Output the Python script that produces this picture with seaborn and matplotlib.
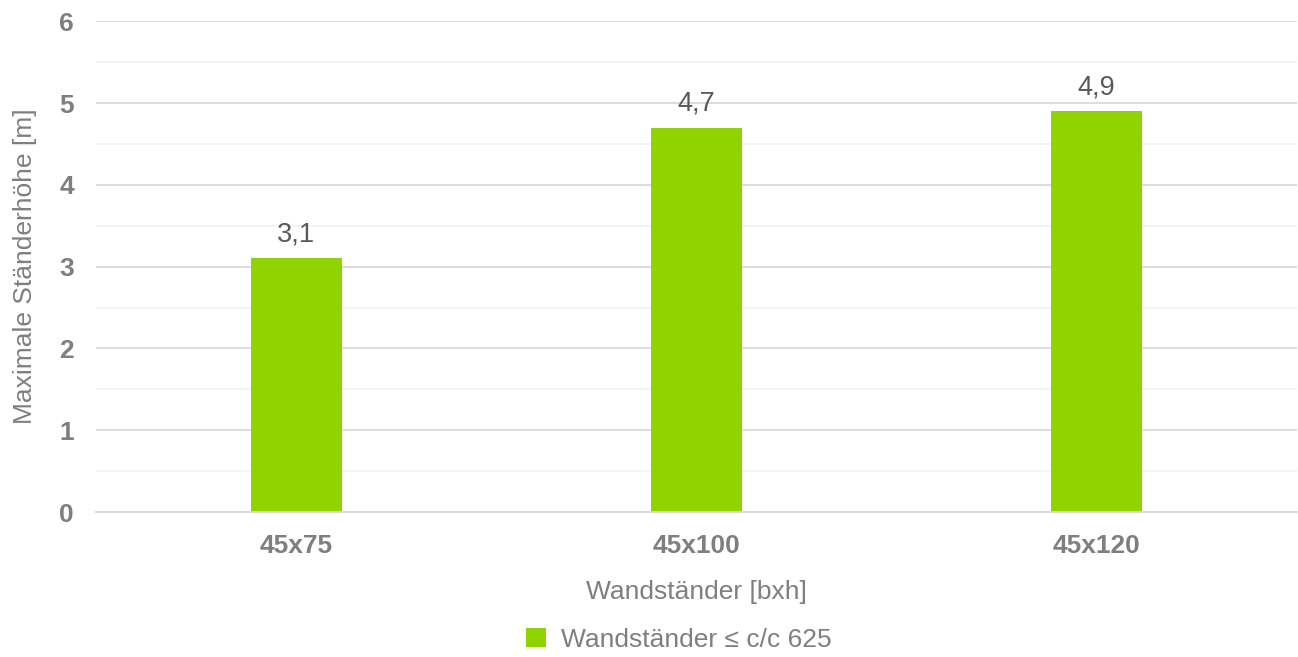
import matplotlib
matplotlib.use("Agg")
import matplotlib.pyplot as plt
import seaborn as sns
import pandas as pd
from matplotlib.ticker import MultipleLocator

categories = ["45x75", "45x100", "45x120"]
values = [3.1, 4.7, 4.9]
value_labels = ["3,1", "4,7", "4,9"]
series_name = "Wandständer \u2264 c/c 625"

sns.set_style("white")
plt.rcParams["font.family"] = ["Liberation Sans", "DejaVu Sans"]

df = pd.DataFrame({"Wandständer": categories, "Höhe": values, "Serie": series_name})

fig = plt.figure(figsize=(12.98, 6.57), dpi=100)
ax = fig.add_axes([0.074, 0.2207, 0.925, 0.747])

sns.barplot(data=df, x="Wandständer", y="Höhe", hue="Serie", palette=["#8fd400"],
            width=0.227, ax=ax, saturation=1, legend=True, linewidth=0)

ax.set_ylim(0, 6)
ax.set_xlim(-0.5, 2.5)
ax.yaxis.set_major_locator(MultipleLocator(1))
ax.yaxis.set_minor_locator(MultipleLocator(0.5))
ax.grid(axis="y", which="major", color="#d9d9d9", linewidth=1.3, zorder=0)
ax.grid(axis="y", which="minor", color="#f2f2f2", linewidth=1.3, zorder=0)
ax.set_axisbelow(True)
for s in ["top", "right", "left"]:
    ax.spines[s].set_visible(False)
ax.spines["bottom"].set_color("#d9d9d9")
ax.spines["bottom"].set_linewidth(1.3)

ax.tick_params(axis="both", which="both", length=0, labelsize=19, labelcolor="#7f7f7f")
ax.tick_params(axis="y", pad=16)
ax.tick_params(axis="x", pad=15.5)
for lab in ax.get_xticklabels() + ax.get_yticklabels():
    lab.set_fontweight("bold")

ax.set_xlabel("Wandständer [bxh]", fontsize=19, color="#7f7f7f", labelpad=16)
ax.set_ylabel("Maximale Ständerhöhe [m]", fontsize=19, color="#7f7f7f", labelpad=16)

ax.bar_label(ax.containers[0], labels=value_labels, padding=8, fontsize=19.5, color="#595959")

handles, labels = ax.get_legend_handles_labels()
ax.get_legend().remove()
fig.legend(handles, labels, loc="center", bbox_to_anchor=(0.523, 0.026), frameon=False,
           fontsize=19, labelcolor="#7f7f7f", handlelength=0.76, handleheight=0.76,
           handletextpad=0.55)

fig.savefig("out.png", dpi=100)
